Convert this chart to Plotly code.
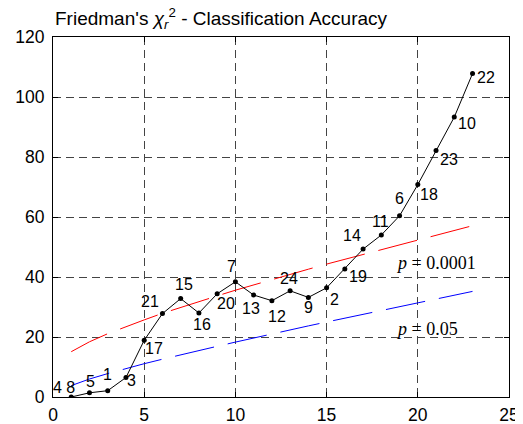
import plotly.graph_objects as go

# Data
x_vals = list(range(1, 24))
chi_r2 = [0.0, 1.4, 2.1, 6.5, 18.9, 27.8, 32.8, 28.0, 34.4, 38.4, 34.0, 32.1,
          35.4, 33.2, 36.4, 42.7, 49.3, 54.0, 60.4, 70.8, 82.2, 93.3, 107.8]
point_labels = ["4 8", "5", "1", "3", "17", "21", "15", "16", "20", "7", "13", "12",
                "24", "9", "2", "19", "14", "11", "6", "18", "23", "10", "22"]
crit_p0001 = [15.1, 18.4, 21.1, 23.5, 25.7, 27.9, 29.9, 31.8, 33.7, 35.6, 37.4, 39.1,
              40.9, 42.6, 44.3, 45.9, 47.6, 49.2, 50.8, 52.4, 54.0, 55.5, 57.1]
crit_p05 = [3.8, 6.0, 7.8, 9.5, 11.1, 12.6, 14.1, 15.5, 16.9, 18.3, 19.7, 21.0,
            22.4, 23.7, 25.0, 26.3, 27.6, 28.9, 30.1, 31.4, 32.7, 33.9, 35.2]
x_ticks = [0, 5, 10, 15, 20, 25]
y_ticks = [0, 20, 40, 60, 80, 100, 120]

# label pixel offsets (dx right, dy down)
label_offsets = [(-7, -10), (1, -11), (0, -16), (6, 3), (10, 8), (-12, -12), (3, -14),
                 (3, 11), (9, 10), (-4, -15), (-3, 13), (5, 16), (-1, -12), (0, 10),
                 (8, 12), (13, 8), (-11, -14), (-1, -14), (0, -17), (11, 10), (13, 9),
                 (13, 6), (13, 4)]

fig = go.Figure()
fig.add_trace(go.Scatter(x=x_vals, y=crit_p0001, mode="lines",
                         line=dict(color="red", width=1, dash="40px,14px"),
                         showlegend=False, hoverinfo="skip"))
fig.add_trace(go.Scatter(x=x_vals, y=crit_p05, mode="lines",
                         line=dict(color="blue", width=1, dash="40px,14px"),
                         showlegend=False, hoverinfo="skip"))
fig.add_trace(go.Scatter(x=x_vals, y=chi_r2, mode="lines+markers",
                         line=dict(color="black", width=1),
                         marker=dict(color="black", size=5),
                         showlegend=False))

for xv, yv, lab, (dx, dy) in zip(x_vals, chi_r2, point_labels, label_offsets):
    fig.add_annotation(x=xv, y=yv, text=lab, showarrow=False,
                       xshift=dx, yshift=-dy,
                       font=dict(family="Liberation Sans", size=16, color="black"))

fig.add_annotation(x=18.7, y=44.7, text="<i>p</i> = 0.0001", showarrow=False,
                   xanchor="left", yanchor="middle",
                   font=dict(family="Liberation Serif", size=18, color="black"))
fig.add_annotation(x=18.7, y=22.7, text="<i>p</i> = 0.05", showarrow=False,
                   xanchor="left", yanchor="middle",
                   font=dict(family="Liberation Serif", size=18, color="black"))

fig.add_annotation(xref="paper", yref="paper", x=0, y=1, xanchor="left", yanchor="bottom",
                   yshift=3, showarrow=False,
                   text="Friedman's <i>χ</i><sub><i>r</i></sub><sup>2</sup> - Classification Accuracy",
                   font=dict(family="Liberation Sans", size=19, color="black"))

axis_common = dict(showline=True, linecolor="black", linewidth=1, mirror="ticks",
                   ticks="inside", ticklen=5, tickcolor="black",
                   showgrid=True, gridcolor="#444", gridwidth=1, griddash="8px,5px",
                   zeroline=False, automargin=False,
                   tickfont=dict(family="Liberation Sans", size=17.5, color="black"))

# page body has an 8px margin, so the figure is sized to fit the window
fig.update_layout(
    width=515, height=416,
    margin=dict(l=45, r=14, t=29, b=27),
    paper_bgcolor="white", plot_bgcolor="white",
    xaxis=dict(range=[0, 25], tickvals=x_ticks, ticklabelstandoff=2, **axis_common),
    yaxis=dict(range=[0, 120], tickvals=y_ticks, ticklabelstandoff=4, **axis_common),
)

fig.write_html("out.html")
